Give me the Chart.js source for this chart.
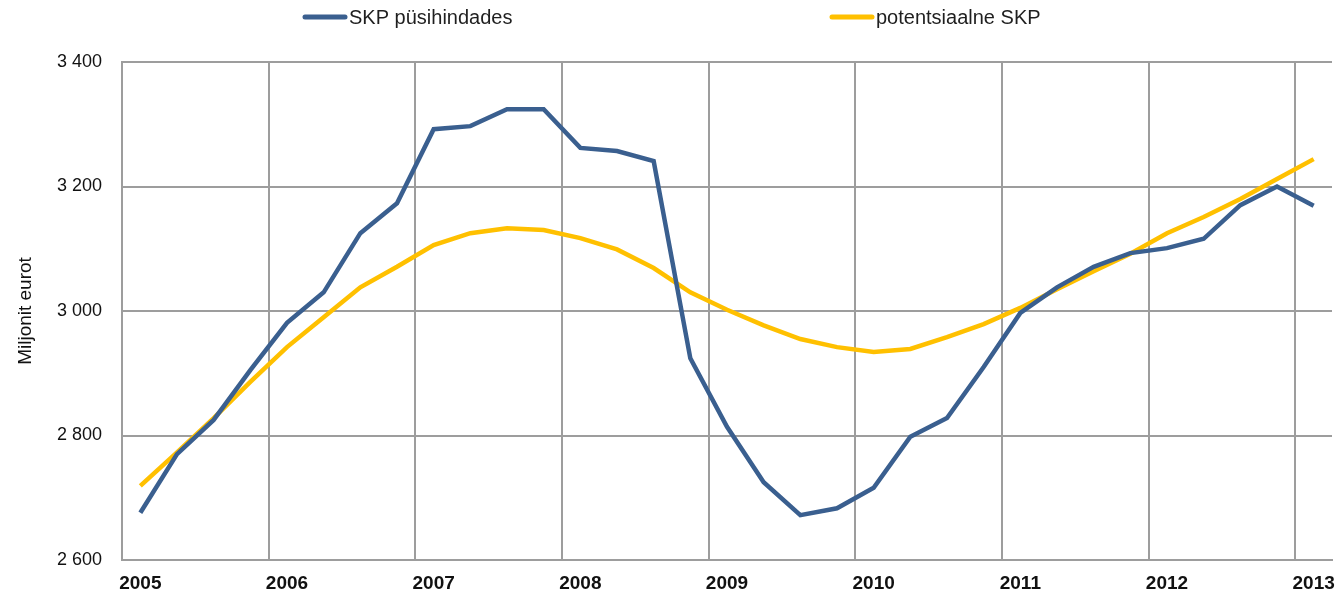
<!DOCTYPE html>
<html>
<head>
<meta charset="utf-8">
<script src="https://cdn.jsdelivr.net/npm/chart.js@4"></script>
<style>
  body { margin: 0; background: #fff; }
  #kast { width: 1337px; height: 594px; }
</style>
</head>
<body>
<div id="kast"><canvas id="graafik"></canvas></div>
<script>
// aastad x-teljel, andmed kvartalite kaupa (2005 I ... 2013 I)
const aastad = ['2005', '2006', '2007', '2008', '2009', '2010', '2011', '2012', '2013'];
const kvartalid = [];
aastad.forEach(a => ['I', 'II', 'III', 'IV'].forEach(k => kvartalid.push(a + ' ' + k)));
kvartalid.length = 33;

const skpPusihindades = [2676, 2770, 2825, 2905, 2981, 3030, 3125, 3173, 3292, 3297, 3324, 3324,
  3262, 3257, 3241, 2924, 2814, 2725, 2672, 2683, 2716, 2798, 2828, 2910,
  2997, 3038, 3071, 3093, 3101, 3116, 3170, 3200, 3169];
const potentsiaalneSkp = [2719, 2773, 2828, 2886, 2942, 2990, 3038, 3071, 3106, 3125, 3133, 3130,
  3117, 3099, 3069, 3030, 3002, 2977, 2955, 2942, 2934, 2939, 2958, 2979,
  3005, 3035, 3064, 3092, 3125, 3151, 3180, 3212, 3244];

const yTicks = [2600, 2800, 3000, 3200, 3400];

const sinine = '#3A5F8F';
const kollane = '#FFC000';
const hall = '#9d9d9d';

// legend ulal, kaks kirjet laiali
const legendPlugin = {
  id: 'legendaRida',
  afterDraw(chart) {
    const ctx = chart.ctx;
    const xs = [303, 830];
    ctx.save();
    chart.data.datasets.forEach((ds, i) => {
      ctx.strokeStyle = ds.borderColor;
      ctx.lineWidth = 5;
      ctx.lineCap = 'round';
      ctx.beginPath();
      ctx.moveTo(xs[i] + 2, 17);
      ctx.lineTo(xs[i] + 42, 17);
      ctx.stroke();
      ctx.fillStyle = '#1f1f1f';
      ctx.font = '20px "Liberation Sans", Arial, sans-serif';
      ctx.textBaseline = 'middle';
      ctx.fillText(ds.label, xs[i] + 46, 18);
    });
    ctx.restore();
  }
};

const ctx = document.getElementById('graafik').getContext('2d');
let myChart = new Chart(ctx, {
  type: 'line',
  data: {
    labels: kvartalid,
    datasets: [
      {
        label: 'SKP püsihindades',
        data: skpPusihindades,
        borderColor: sinine,
        borderWidth: 4.5,
        pointRadius: 0,
        tension: 0
      },
      {
        label: 'potentsiaalne SKP',
        data: potentsiaalneSkp,
        borderColor: kollane,
        borderWidth: 4.5,
        pointRadius: 0,
        tension: 0
      }
    ]
  },
  options: {
    responsive: true,
    maintainAspectRatio: false,
    animation: false,
    layout: { padding: { top: 62, right: 5, left: 0, bottom: 0 } },
    plugins: {
      legend: { display: false },
      tooltip: { enabled: false }
    },
    scales: {
      x: {
        offset: true,
        afterFit: s => { s.height = 34; s.paddingRight = 0; s.paddingLeft = 0; },
        grid: {
          offset: true,
          drawTicks: false,
          lineWidth: 2,
          color: c => (c.index % 4 === 0 ? hall : 'rgba(0,0,0,0)')
        },
        border: { color: hall, width: 2 },
        ticks: {
          autoSkip: false,
          maxRotation: 0,
          padding: 12,
          color: '#111',
          font: { family: '"Liberation Sans", Arial, sans-serif', size: 19, weight: 'bold' },
          callback: (v, i) => (i % 4 === 0 ? aastad[i / 4] : '')
        }
      },
      y: {
        min: yTicks[0],
        max: yTicks[yTicks.length - 1],
        afterBuildTicks: s => { s.ticks = yTicks.map(v => ({ value: v })); },
        afterFit: s => { s.width = 122; },
        grid: { drawTicks: false, lineWidth: 2, color: hall },
        border: { color: hall, width: 2 },
        title: {
          display: true,
          text: 'Miljonit eurot',
          color: '#111',
          padding: { top: 14, bottom: 0 },
          font: { family: '"Liberation Sans", Arial, sans-serif', size: 19 }
        },
        ticks: {
          padding: 20,
          color: '#111',
          font: { family: '"Liberation Sans", Arial, sans-serif', size: 18 },
          callback: v => Math.floor(v / 1000) + ' ' + String(v % 1000).padStart(3, '0')
        }
      }
    }
  },
  plugins: [legendPlugin]
});
</script>
</body>
</html>
